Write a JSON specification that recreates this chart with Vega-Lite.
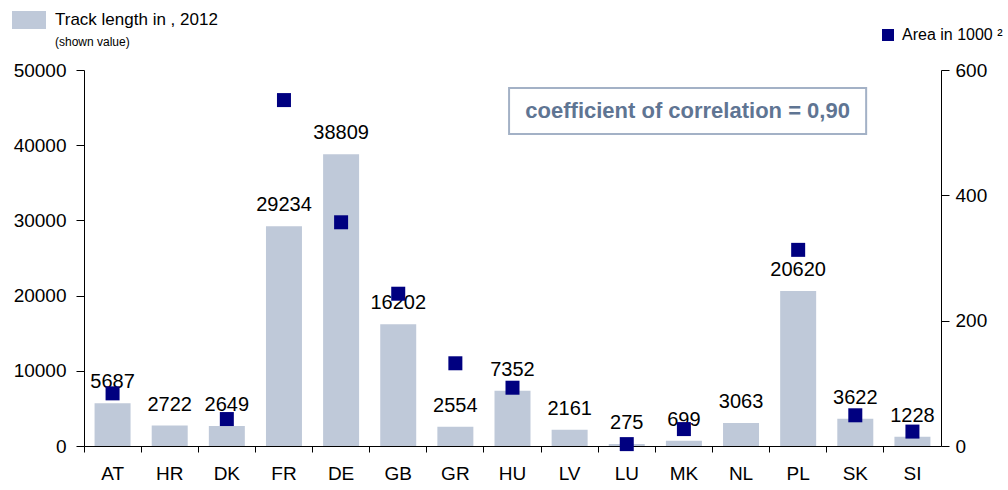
{
  "$schema": "https://vega.github.io/schema/vega-lite/v6.json",
  "width": 857,
  "height": 376,
  "autosize": {"type": "none"},
  "padding": {"left": 84, "top": 70, "right": 67, "bottom": 44},
  "background": "white",
  "title": {
    "text": "(shown value)",
    "anchor": "start",
    "frame": "group",
    "fontSize": 12,
    "fontWeight": "normal",
    "font": "Liberation Sans",
    "color": "black",
    "dx": -29,
    "offset": -46
  },
  "config": {
    "font": "Liberation Sans",
    "view": {"stroke": null},
    "axis": {
      "grid": false,
      "labelFontSize": 19,
      "labelColor": "black",
      "domainColor": "black",
      "tickColor": "black",
      "title": null
    }
  },
  "data": {
    "values": [
      {"c": "AT", "track": 5687, "area": 84},
      {"c": "HR", "track": 2722, "area": null},
      {"c": "DK", "track": 2649, "area": 43},
      {"c": "FR", "track": 29234, "area": 552},
      {"c": "DE", "track": 38809, "area": 357},
      {"c": "GB", "track": 16202, "area": 243},
      {"c": "GR", "track": 2554, "area": 132},
      {"c": "HU", "track": 7352, "area": 93},
      {"c": "LV", "track": 2161, "area": null},
      {"c": "LU", "track": 275, "area": 3},
      {"c": "MK", "track": 699, "area": 27},
      {"c": "NL", "track": 3063, "area": null},
      {"c": "PL", "track": 20620, "area": 313},
      {"c": "SK", "track": 3622, "area": 49},
      {"c": "SI", "track": 1228, "area": 23}
    ]
  },
  "layer": [
    {
      "encoding": {
        "x": {
          "field": "c",
          "type": "nominal",
          "sort": null,
          "scale": {"domain": ["AT","HR","DK","FR","DE","GB","GR","HU","LV","LU","MK","NL","PL","SK","SI"], "paddingInner": 0, "paddingOuter": 0},
          "axis": {
            "labelAngle": 0,
            "bandPosition": 0,
            "tickSize": 6,
            "labelPadding": 12
          }
        },
        "y": {
          "field": "track",
          "type": "quantitative",
          "scale": {"domain": [0, 50000], "nice": false},
          "axis": {
            "orient": "left",
            "values": [0, 10000, 20000, 30000, 40000, 50000],
            "format": "d",
            "tickSize": 8,
            "labelPadding": 10
          }
        }
      },
      "layer": [
        {
          "mark": {"type": "bar", "width": {"band": 0.63}},
          "encoding": {
            "color": {
              "datum": "Track length in , 2012",
              "type": "nominal",
              "scale": {"range": ["#bfc9d9"]},
              "legend": {
                "orient": "none",
                "legendX": -72,
                "legendY": -67,
                "title": null,
                "padding": 0,
                "symbolType": "M-1,-0.53H1V0.53H-1Z",
                "symbolSize": 1156,
                "symbolStrokeWidth": 0,
                "labelFontSize": 17,
                "labelLimit": 400,
                "labelColor": "black",
                "labelOffset": 9
              }
            }
          }
        },
        {
          "mark": {"type": "text", "fontSize": 20, "color": "black", "baseline": "alphabetic", "dy": -15},
          "encoding": {
            "text": {"field": "track", "type": "quantitative", "format": "d"}
          }
        }
      ]
    },
    {
      "mark": {"type": "square", "size": 196, "opacity": 1, "filled": true},
      "encoding": {
        "x": {"field": "c", "type": "nominal", "sort": null, "scale": {"domain": ["AT","HR","DK","FR","DE","GB","GR","HU","LV","LU","MK","NL","PL","SK","SI"], "paddingInner": 0, "paddingOuter": 0}, "axis": null},
        "y": {
          "field": "area",
          "type": "quantitative",
          "scale": {"domain": [0, 600], "nice": false},
          "axis": {
            "orient": "right",
            "values": [0, 200, 400, 600],
            "tickSize": 8,
            "labelPadding": 6
          }
        },
        "color": {
          "datum": "Area in 1000 ²",
          "type": "nominal",
          "scale": {"range": ["#000080"]},
          "legend": {
            "orient": "none",
            "legendX": 796,
            "legendY": -43,
            "title": null,
            "padding": 0,
            "symbolType": "square",
            "symbolSize": 144,
            "symbolStrokeWidth": 0,
            "labelFontSize": 16,
            "labelLimit": 300,
            "labelColor": "black",
            "labelOffset": 6
          }
        }
      }
    },
    {
      "data": {
        "values": [
          {"x1": 7.44, "x2": 13.69, "y1": 41489, "y2": 47606, "xm": 10.565, "ym": 44548, "label": "coefficient of correlation = 0,90"}
        ]
      },
      "layer": [
        {
          "mark": {"type": "rect", "fill": "white", "stroke": "#a3b1c6", "strokeWidth": 2},
          "encoding": {
            "x": {"field": "x1", "type": "quantitative", "scale": {"domain": [0, 15], "nice": false, "zero": false}, "axis": null},
            "x2": {"field": "x2"},
            "y": {"field": "y1", "type": "quantitative", "scale": {"domain": [0, 50000], "nice": false}, "axis": null},
            "y2": {"field": "y2"}
          }
        },
        {
          "mark": {"type": "text", "fontSize": 22, "fontWeight": "bold", "color": "#5f7593", "align": "center", "baseline": "middle"},
          "encoding": {
            "x": {"field": "xm", "type": "quantitative"},
            "y": {"field": "ym", "type": "quantitative"},
            "text": {"field": "label"}
          }
        }
      ]
    }
  ],
  "resolve": {
    "scale": {"x": "independent", "y": "independent", "color": "independent"}
  }
}
